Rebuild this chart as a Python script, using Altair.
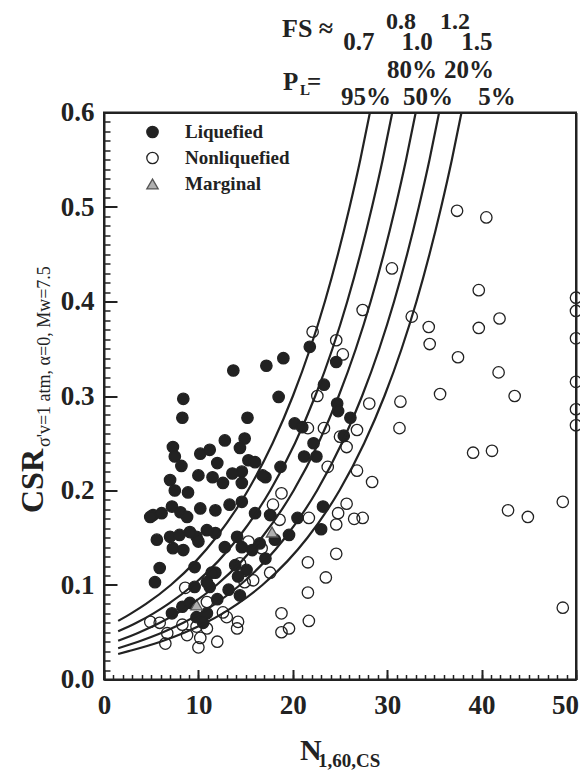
import altair as alt
import pandas as pd

FONT = "Liberation Serif"
INK = "#222222"

# ---------------- data ----------------
LIQ_N = [13.7, 17.2, 19.0, 8.4, 18.5, 8.3, 15.2, 21.8, 24.6, 23.3, 24.7, 24.8, 20.2, 21.0, 26.1, 25.4,
         22.2, 21.2, 22.5, 18.7, 23.2, 20.5, 23.0, 19.6, 17.1, 14.6, 12.6, 13.3, 11.8, 16.0, 17.6, 11.8,
         14.1, 14.6, 12.8, 15.7, 17.1, 18.1, 11.8, 13.9, 15.1, 14.2, 14.4, 11.2, 7.0, 7.5, 8.9, 10.0,
         5.2, 6.1, 7.2, 8.1, 8.8, 10.2, 5.6, 7.0, 7.3, 8.4, 9.8, 10.9, 5.9, 5.4, 9.6, 11.4, 9.6, 7.2,
         8.3, 9.1, 9.8, 10.9, 7.3, 7.5, 8.2, 10.2, 11.2, 12.8, 14.9, 14.4, 12.0, 15.3, 16.0, 14.6,
         13.6, 16.8, 10.5, 10.9, 16.5, 14.6, 4.9, 8.0, 9.1, 10.0, 11.5, 12.0, 13.2]
LIQ_CSR = [0.327, 0.332, 0.340, 0.297, 0.299, 0.277, 0.277, 0.352, 0.336, 0.312, 0.292, 0.284, 0.271,
           0.267, 0.277, 0.258, 0.250, 0.236, 0.236, 0.225, 0.183, 0.171, 0.159, 0.153, 0.214, 0.208,
           0.208, 0.185, 0.179, 0.176, 0.174, 0.155, 0.151, 0.140, 0.140, 0.137, 0.128, 0.148, 0.113,
           0.121, 0.116, 0.109, 0.089, 0.098, 0.211, 0.200, 0.198, 0.216, 0.174, 0.176, 0.183, 0.177,
           0.172, 0.181, 0.148, 0.151, 0.139, 0.137, 0.151, 0.158, 0.118, 0.103, 0.119, 0.113, 0.098,
           0.070, 0.077, 0.081, 0.066, 0.070, 0.246, 0.236, 0.226, 0.239, 0.243, 0.253, 0.255, 0.245,
           0.229, 0.232, 0.230, 0.220, 0.218, 0.216, 0.060, 0.103, 0.144, 0.188, 0.172, 0.153, 0.156,
           0.146, 0.214, 0.085, 0.095]

NONLIQ_N = [37.4, 40.5, 30.5, 39.7, 27.4, 32.6, 41.9, 34.4, 39.7, 22.1, 34.5, 24.6, 37.5, 25.3, 41.8,
            22.6, 35.6, 43.5, 28.1, 31.4, 21.6, 23.3, 26.8, 31.3, 25.0, 25.7, 39.1, 41.1, 26.8, 28.4,
            23.7, 48.6, 42.8, 44.9, 25.7, 24.8, 24.6, 26.5, 27.4, 21.7, 18.8, 18.6, 24.6, 21.6, 23.5,
            21.6, 21.7, 18.8, 19.6, 18.8, 48.6, 50.0, 50.0, 50.0, 50.0, 50.0, 50.0, 17.9, 15.3, 16.7,
            17.6, 15.8, 14.9, 14.4, 12.6, 13.0, 14.2, 14.1, 12.0, 4.9, 5.9, 6.7, 8.6, 6.5, 8.3, 8.8,
            9.8, 10.2, 10.0, 10.9, 10.9]
NONLIQ_CSR = [0.496, 0.489, 0.435, 0.412, 0.391, 0.384, 0.382, 0.373, 0.372, 0.368, 0.355, 0.359,
              0.341, 0.344, 0.325, 0.300, 0.302, 0.300, 0.292, 0.294, 0.266, 0.266, 0.264, 0.266,
              0.257, 0.246, 0.240, 0.242, 0.221, 0.209, 0.225, 0.188, 0.179, 0.172, 0.186, 0.176,
              0.164, 0.170, 0.171, 0.171, 0.197, 0.169, 0.133, 0.124, 0.108, 0.092, 0.062, 0.070,
              0.054, 0.050, 0.076, 0.404, 0.390, 0.361, 0.315, 0.286, 0.269, 0.185, 0.146, 0.139,
              0.113, 0.105, 0.103, 0.123, 0.071, 0.066, 0.061, 0.054, 0.040, 0.061, 0.060, 0.049,
              0.097, 0.038, 0.058, 0.047, 0.056, 0.044, 0.034, 0.054, 0.082]

MARG_N = [9.8, 17.8]
MARG_CSR = [0.079, 0.156]

# boundary curves (probability of liquefaction)
C95_N = [1.5, 2.88, 4.45, 7.08, 9.71, 11.85, 15.24, 17.86, 20.01, 21.83, 23.40, 24.78, 26.02, 27.15, 28.17]
C95_CSR = [0.062, 0.07, 0.08, 0.10, 0.125, 0.15, 0.20, 0.25, 0.30, 0.35, 0.40, 0.45, 0.50, 0.55, 0.60]
C80_N = [1.5, 3.44, 5.25, 6.82, 9.45, 12.08, 14.22, 17.61, 20.23, 22.38, 24.20, 25.77, 27.15, 28.39, 29.52, 30.54]
C80_CSR = [0.051, 0.06, 0.07, 0.08, 0.10, 0.125, 0.15, 0.20, 0.25, 0.30, 0.35, 0.40, 0.45, 0.50, 0.55, 0.60]
C50_N = [1.5, 3.77, 5.92, 7.73, 9.30, 11.93, 14.56, 16.70, 20.09, 22.71, 24.86, 26.68, 28.25, 29.63, 30.87, 32.00, 33.02]
C50_CSR = [0.041, 0.05, 0.06, 0.07, 0.08, 0.10, 0.125, 0.15, 0.20, 0.25, 0.30, 0.35, 0.40, 0.45, 0.50, 0.55, 0.60]
C20_N = [1.5, 3.62, 6.25, 8.40, 10.21, 11.78, 14.41, 17.04, 19.18, 22.57, 25.19, 27.34, 29.16, 30.73, 32.11, 33.35, 34.48, 35.50]
C20_CSR = [0.033, 0.04, 0.05, 0.06, 0.07, 0.08, 0.10, 0.125, 0.15, 0.20, 0.25, 0.30, 0.35, 0.40, 0.45, 0.50, 0.55, 0.60]
C05_N = [1.5, 2.61, 5.99, 8.62, 10.77, 12.58, 14.15, 16.78, 19.41, 21.55, 24.94, 27.56, 29.71, 31.53, 33.10, 34.48, 35.72, 36.85, 37.87]
C05_CSR = [0.027, 0.03, 0.04, 0.05, 0.06, 0.07, 0.08, 0.10, 0.125, 0.15, 0.20, 0.25, 0.30, 0.35, 0.40, 0.45, 0.50, 0.55, 0.60]

TYPES = ["Liquefied", "Nonliquefied", "Marginal"]
X_TICKS = [0, 10, 20, 30, 40, 50]
Y_TICKS = [0.0, 0.1, 0.2, 0.3, 0.4, 0.5, 0.6]

FS_ROW1, FS_ROW1_N = ["0.8", "1.2"], [31.46, 37.18]
FS_ROW2, FS_ROW2_N = ["0.7", "1.0", "1.5"], [27.01, 33.16, 39.51]
PL_ROW1, PL_ROW1_N = ["80%", "20%"], [32.63, 38.67]
PL_ROW2, PL_ROW2_N = ["95%", "50%", "5%"], [27.75, 34.32, 41.63]

# ---------------- tables ----------------
pts = pd.concat([
    pd.DataFrame({"N": LIQ_N, "CSR": LIQ_CSR, "type": "Liquefied"}),
    pd.DataFrame({"N": NONLIQ_N, "CSR": NONLIQ_CSR, "type": "Nonliquefied"}),
    pd.DataFrame({"N": MARG_N, "CSR": MARG_CSR, "type": "Marginal"}),
], ignore_index=True)

curves = pd.concat([
    pd.DataFrame({"N": n, "CSR": c, "PL": name})
    for name, n, c in [("95", C95_N, C95_CSR), ("80", C80_N, C80_CSR), ("50", C50_N, C50_CSR),
                       ("20", C20_N, C20_CSR), ("05", C05_N, C05_CSR)]
], ignore_index=True)

xscale = alt.Scale(domain=[0, 50], nice=False)
yscale = alt.Scale(domain=[0, 0.6], nice=False)

legend = alt.Legend(orient="none", legendX=39, legendY=10, title=None, labelFont=FONT,
                    labelFontSize=19, labelFontWeight="bold", labelColor=INK, symbolSize=130,
                    symbolStrokeWidth=1.3, labelOffset=23, rowPadding=6, padding=0)

points = alt.Chart(pts).mark_point(filled=True, opacity=1, size=130, strokeWidth=1.3).encode(
    x=alt.X("N:Q", scale=xscale, title=None,
            axis=alt.Axis(values=X_TICKS, orient="bottom", tickSize=10, offset=-10, domain=False,
                          grid=False, tickWidth=2, tickColor=INK, labelFont=FONT, labelFontSize=27,
                          labelFontWeight="bold", labelColor=INK, labelPadding=13, labelFlush=False,
                          labelOffset={"condition": {"test": "datum.value === 50", "value": -11},
                                       "value": 0})),
    y=alt.Y("CSR:Q", scale=yscale, title=None,
            axis=alt.Axis(values=Y_TICKS, format=".1f", orient="left", tickSize=13, offset=-13,
                          domain=False, grid=False, tickWidth=2, tickColor=INK, labelFont=FONT,
                          labelFontSize=27, labelFontWeight="bold", labelColor=INK, labelPadding=10,
                          labelFlush=False)),
    shape=alt.Shape("type:N", scale=alt.Scale(domain=TYPES, range=["circle", "circle", "triangle-up"]), legend=legend),
    fill=alt.Fill("type:N", scale=alt.Scale(domain=TYPES, range=[INK, "transparent", "#b0b0b0"]), legend=legend),
    stroke=alt.Stroke("type:N", scale=alt.Scale(domain=TYPES, range=[INK, INK, "#555555"]), legend=legend),
    order=alt.Order("idx:Q"),
).transform_window(idx="row_number()")

minor_x = [float(v) for v in range(0, 51)]
minor_y = [round(v * 0.01, 2) for v in range(0, 61)]

lines = alt.Chart(curves).mark_line(color=INK, strokeWidth=2.2, interpolate="monotone").encode(
    x=alt.X("N:Q", scale=xscale, title=None,
            axis=alt.Axis(values=minor_x, orient="bottom", labels=False, tickSize=5, offset=-5,
                          domain=False, grid=False, tickWidth=1.5, tickColor=INK)),
    y=alt.Y("CSR:Q", scale=yscale, title=None,
            axis=alt.Axis(values=minor_y, orient="left", labels=False, tickSize=6, offset=-6,
                          domain=False, grid=False, tickWidth=1.5, tickColor=INK)),
    detail="PL:N",
)


def frame(xo, yo):
    return alt.Chart(curves).mark_point(opacity=0).encode(
        x=alt.X("N:Q", scale=xscale, title=None,
                axis=alt.Axis(orient=xo, domain=True, ticks=False, labels=False, grid=False,
                              domainColor=INK, domainWidth=2)),
        y=alt.Y("CSR:Q", scale=yscale, title=None,
                axis=alt.Axis(orient=yo, domain=True, ticks=False, labels=False, grid=False,
                              domainColor=INK, domainWidth=2)),
    )


def row(texts, ns, ypix, size=25):
    return alt.Chart(pd.DataFrame({"N": ns, "t": texts})).mark_text(
        font=FONT, fontSize=size, fontWeight="bold", color=INK, align="center", baseline="alphabetic"
    ).encode(x=alt.X("N:Q", scale=xscale, axis=None), y=alt.value(ypix), text="t:N")


def label(text, xpix, ypix, size, weight="bold", align="left", angle=0):
    kw = dict(font=FONT, fontSize=size, fontWeight=weight, color=INK, align=align,
              baseline="alphabetic", text=text)
    if angle:
        kw["angle"] = angle
    return alt.Chart(pd.DataFrame({"a": [0]})).mark_text(**kw).encode(
        x=alt.value(xpix), y=alt.value(ypix))


annots = [
    row(FS_ROW1, FS_ROW1_N, -83.5, 24),
    row(FS_ROW2, FS_ROW2_N, -62.5),
    row(PL_ROW1, PL_ROW1_N, -34.5),
    row(PL_ROW2, PL_ROW2_N, -7.5),
    label("FS \u2248", 178, -75.5, 26),
    label("P", 179, -22.5, 25),
    label("L", 196, -17.5, 15),
    label("=", 203, -22.5, 25),
    label("N", 196, 647.5, 30),
    label("1,60,CS", 214, 654.5, 19),
    label("CSR", -61, 336.5, 32, align="right", angle=270),
    label("\u03c3'v=1 atm, \u03b1=0, Mw=7.5", -54, 334.5, 18, weight="normal", align="left", angle=270),
]

chart = alt.layer(points, lines, frame("top", "right"), frame("bottom", "left"), *annots).resolve_axis(
    x="independent", y="independent"
).properties(
    width=472, height=567,
    autosize=alt.AutoSizeParams(type="none"),
    padding={"left": 96, "top": 104.5, "right": 4, "bottom": 92},
    background="white",
).configure_view(stroke=INK, strokeWidth=2)

chart.save("out.html", embed_options={"renderer": "svg", "actions": False})
